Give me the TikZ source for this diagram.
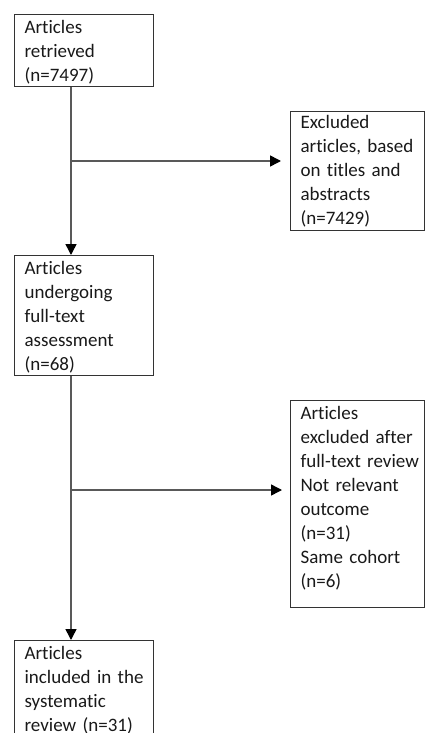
\documentclass[tikz,border=0pt]{standalone}
\usepackage{fontspec}
\setmainfont{Carlito}[Ligatures=NoCommon]
\usetikzlibrary{arrows.meta}
\begin{document}
\begin{tikzpicture}[x=1pt,y=-1pt,
  box/.style={draw=black!80, line width=1.2pt, anchor=north west, align=left,
    inner xsep=10pt, inner ysep=0pt, font=\fontsize{19}{24}\selectfont, text=black!90},
  link/.style={draw=black!65, line width=1.5pt},
  arr/.style={link, -{Triangle[length=11pt,width=11pt,color=black]}}]
\useasboundingbox (0,0) rectangle (425,733);
\node[box, text width=119pt, text height=19pt, text depth=53pt] (a) at (14,14)
  {Articles\\retrieved\\(n=7497)};
\node[box, text width=114pt, text height=17pt, text depth=102pt] (b) at (290,111)
  {Excluded\\\mbox{articles, based}\\on titles and\\abstracts\\(n=7429)};
\node[box, text width=119pt, text height=19pt, text depth=101pt] (c) at (14,255)
  {Articles\\undergoing\\full-text\\assessment\\(n=68)};
\node[box, text width=114pt, text height=19pt, text depth=188pt] (d) at (290,400)
  {Articles\\excluded after\\\mbox{full-text review}\\Not relevant\\outcome\\(n=31)\\Same cohort\\(n=6)};
\node[box, text width=119pt, text height=19pt, text depth=81pt] (e) at (14,640)
  {Articles\\\mbox{included in the}\\systematic\\\mbox{review (n=31)}};
\coordinate (vx) at (71,0);
\coordinate (j1) at (71,161);
\coordinate (j2) at (71,490);
\draw[arr] (a.south -| vx) -- (c.north -| vx);
\draw[arr, shorten >=9pt] (j1) -- (b.west |- j1);
\draw[arr] (c.south -| vx) -- (e.north -| vx);
\draw[arr, shorten >=8pt] (j2) -- (d.west |- j2);
\end{tikzpicture}
\end{document}
